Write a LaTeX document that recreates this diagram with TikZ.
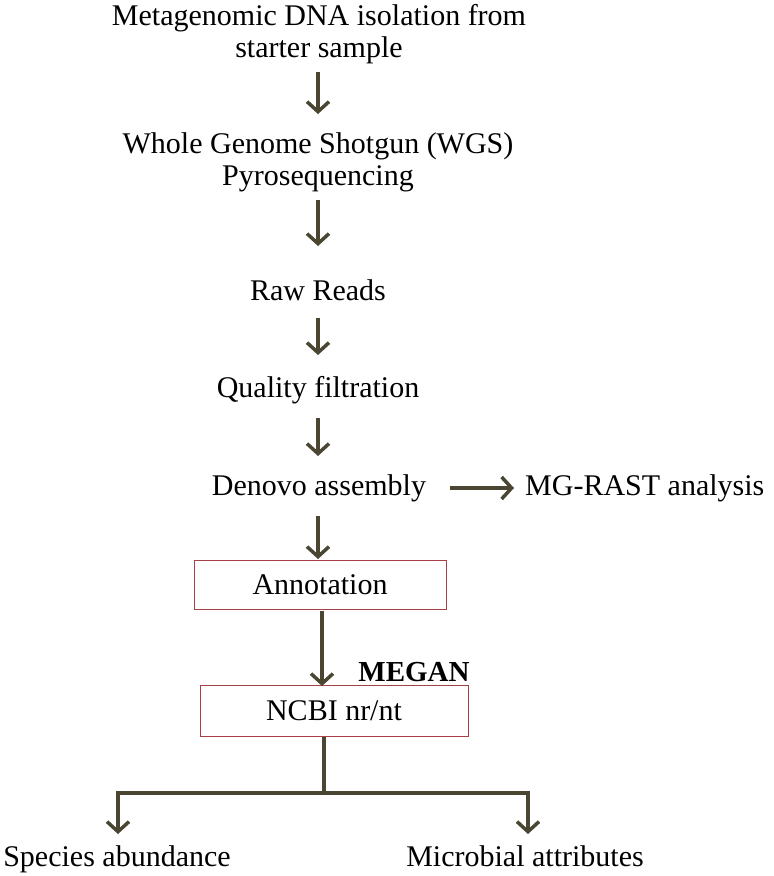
\documentclass[tikz,border=0pt]{standalone}
\usepackage{fontspec}
\setmainfont{Liberation Serif}
\usetikzlibrary{arrows.meta}
\definecolor{arr}{HTML}{4A4632}
\definecolor{boxred}{HTML}{A8404A}
\begin{document}
\begin{tikzpicture}[x=1pt,y=-1pt,
  lbl/.style={font=\fontsize{30}{32}\selectfont, align=center, inner sep=0pt},
  bx/.style={draw=boxred, line width=1pt, minimum width=252pt, minimum height=49pt, font=\fontsize{30}{32}\selectfont, inner sep=0pt},
  flow/.style={draw=arr, line width=3.5pt, -{Straight Barb[length=10pt,width=22pt,line width=3.5pt]}},
  plain/.style={draw=arr, line width=3.5pt}]
\useasboundingbox (0,0) rectangle (774,876);
\node[lbl] (n1) at (319,34) {Metagenomic DNA isolation from\\starter sample};
\node[lbl] (n2) at (318,162) {Whole Genome Shotgun (WGS)\\Pyrosequencing};
\node[lbl] (n3) at (318,290) {Raw Reads};
\node[lbl] (n4) at (318,390) {Quality filtration};
\node[lbl] (n5) at (319,488) {Denovo assembly};
\node[lbl, anchor=west] (n6) at (525,488) {MG-RAST analysis};
\node[bx] (b1) at (320,585) {Annotation};
\node[bx, minimum width=268pt, minimum height=51pt] (b2) at (334,711) {NCBI nr/nt};
\node[font=\fontsize{29}{32}\selectfont\bfseries, inner sep=0pt] (meg) at (414,672) {MEGAN};
\node[lbl, anchor=base] (s1) at (117,866) {Species abundance};
\node[lbl, anchor=base] (s2) at (525,866) {Microbial attributes};
\coordinate (a1s) at (318,72); \coordinate (a1e) at (318,114);
\coordinate (a2s) at (318,200); \coordinate (a2e) at (318,246);
\coordinate (a3s) at (318,318); \coordinate (a3e) at (318,355);
\coordinate (a4s) at (318,418); \coordinate (a4e) at (318,456);
\coordinate (a5s) at (318,516); \coordinate (a5e) at (318,559);
\coordinate (r1) at (450,488); \coordinate (r2) at (514,488);
\coordinate (m1) at (322,611); \coordinate (m2) at (322,686);
\coordinate (j) at (324,793);
\coordinate (jl) at (118,793); \coordinate (jr) at (528,793);
\coordinate (el) at (118,834); \coordinate (er) at (528,834);
\draw[flow] (a1s) -- (a1e);
\draw[flow] (a2s) -- (a2e);
\draw[flow] (a3s) -- (a3e);
\draw[flow] (a4s) -- (a4e);
\draw[flow] (a5s) -- (a5e);
\draw[flow] (r1) -- (r2);
\draw[flow] (m1) -- (m2);
\draw[plain] (b2.south -| j) -- (j);
\draw[plain] ([xshift=-1.75pt]jl) -- ([xshift=1.75pt]jr);
\draw[flow] (jl) -- (el);
\draw[flow] (jr) -- (er);
\end{tikzpicture}
\end{document}
